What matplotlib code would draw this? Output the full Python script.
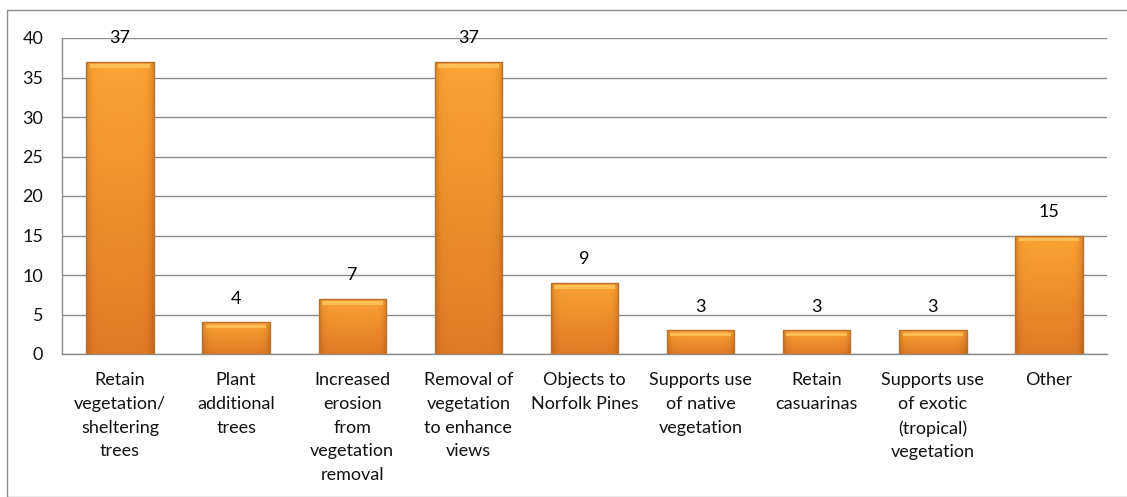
import numpy as np
import matplotlib.pyplot as plt
from matplotlib.patches import Rectangle
from matplotlib.colors import to_rgb

categories = [
    "Retain\nvegetation/\nsheltering\ntrees",
    "Plant\nadditional\ntrees",
    "Increased\nerosion\nfrom\nvegetation\nremoval",
    "Removal of\nvegetation\nto enhance\nviews",
    "Objects to\nNorfolk Pines",
    "Supports use\nof native\nvegetation",
    "Retain\ncasuarinas",
    "Supports use\nof exotic\n(tropical)\nvegetation",
    "Other",
]
counts = [37, 4, 7, 37, 9, 3, 3, 3, 15]
yticks = [0, 5, 10, 15, 20, 25, 30, 35, 40]

plt.rcParams['font.family'] = ['Lato', 'DejaVu Sans']
fs = 13

fig = plt.figure(figsize=(11.27, 4.97), dpi=100)
# outer chart border
fig.patches.append(Rectangle((7 / 1127, 0), 1.2, 1 - 10 / 497, transform=fig.transFigure,
                             fill=False, edgecolor='#8c8c8c', linewidth=1))
ax = fig.add_axes([62 / 1127, 1 - 354 / 497, (1107 - 62) / 1127, (354 - 38) / 497])

x = range(len(categories))
bw = 0.58
bars = ax.bar(x, counts, width=bw, color='none', edgecolor='#B9712F', linewidth=1.0, zorder=4)

# shaded fill: lighter at top, darker at bottom and at the sides
top_c = np.array(to_rgb('#FDA233'))
bot_c = np.array(to_rgb('#E27A25'))
for b, v in zip(bars, counts):
    t = np.linspace(1, 0, 60)[:, None, None]
    s = np.linspace(0, 1, 40)[None, :, None]
    img = bot_c + (top_c - bot_c) * t
    edge = np.exp(-s / 0.05) + np.exp(-(1 - s) / 0.05)
    img = np.clip(img * (1 - 0.15 * edge), 0, 1)
    x0 = b.get_x()
    im = ax.imshow(img, extent=[x0, x0 + bw, 0, v], aspect='auto', zorder=3, interpolation='bilinear')
    im.set_clip_path(b)
    # glossy top band
    ax.bar(x0 + bw / 2, 0.45, bottom=v - 0.75, width=bw * 0.9,
           color='#FFCB63', alpha=0.75, linewidth=0, zorder=3.5)

for i, v in enumerate(counts):
    ax.annotate(str(v), (i, v), xytext=(0, 17), textcoords='offset points',
                ha='center', va='center', fontsize=fs, color='black', zorder=5)

ax.set_xlim(-0.5, len(categories) - 0.5)
ax.set_ylim(0, 40)
ax.set_yticks(yticks)
ax.set_xticks(list(x))
ax.set_xticklabels(categories, fontsize=fs, linespacing=1.6, va='top')
ax.tick_params(axis='both', length=0, labelsize=fs, labelcolor='#111111')
ax.tick_params(axis='x', pad=13)
ax.tick_params(axis='y', pad=13.5)
ax.grid(axis='y', color='#8c8c8c', linewidth=1, zorder=0)
ax.set_axisbelow(True)
for s in ['top', 'right']:
    ax.spines[s].set_visible(False)
for s in ['left', 'bottom']:
    ax.spines[s].set_color('#8c8c8c')
    ax.spines[s].set_linewidth(1)

fig.savefig('out.png', dpi=100)
